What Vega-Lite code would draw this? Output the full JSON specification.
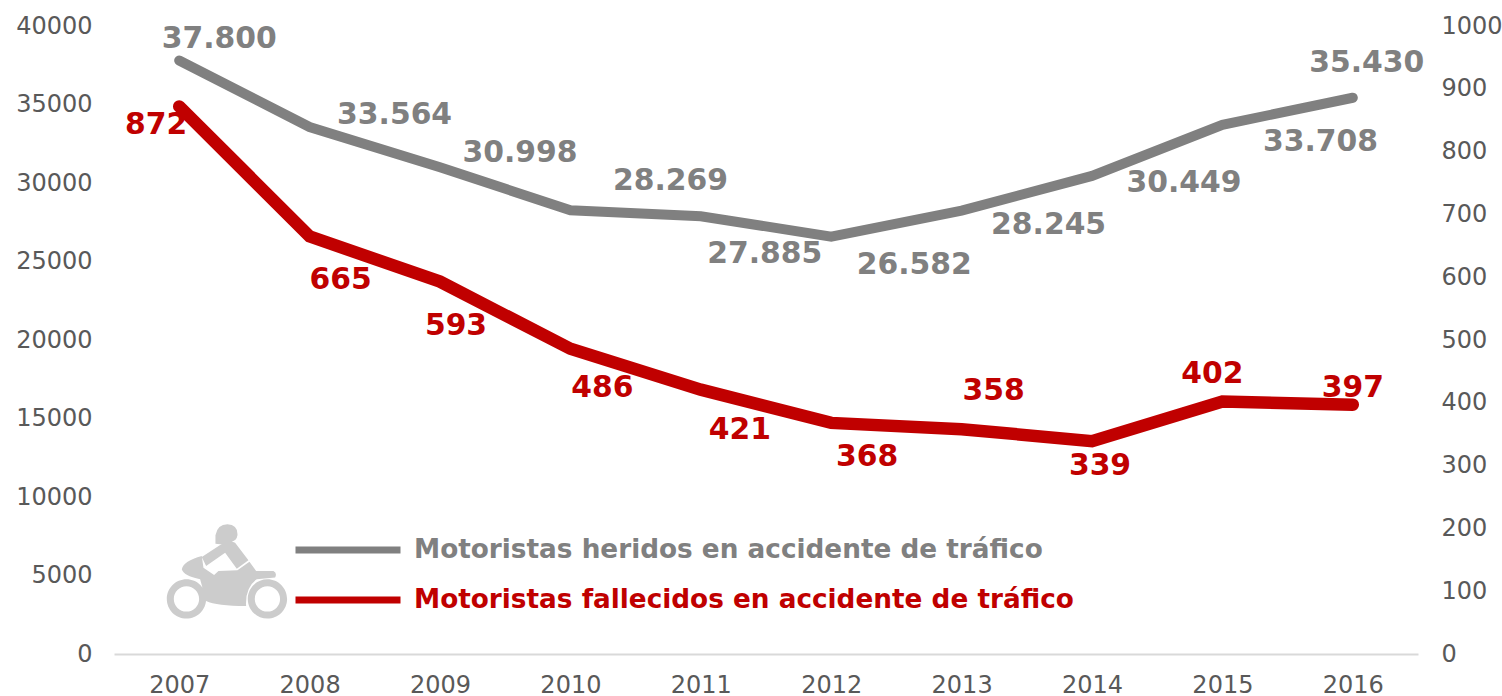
{"$schema":"https://vega.github.io/schema/vega-lite/v6.json","width":1304,"height":628,"autosize":{"type":"none"},"padding":{"left":114,"top":26,"right":84,"bottom":42},"background":"white","config":{"view":{"stroke":null},"font":"DejaVu Sans"},"datasets":{"icono":[{"anio":2007.37,"valor":5268}]},"data":{"values":[{"serie":"Motoristas heridos en accidente de tráfico","anio":2007,"valor":37800,"etiqueta":"37.800"},{"serie":"Motoristas heridos en accidente de tráfico","anio":2008,"valor":33564,"etiqueta":"33.564"},{"serie":"Motoristas heridos en accidente de tráfico","anio":2009,"valor":30998,"etiqueta":"30.998"},{"serie":"Motoristas heridos en accidente de tráfico","anio":2010,"valor":28269,"etiqueta":"28.269"},{"serie":"Motoristas heridos en accidente de tráfico","anio":2011,"valor":27885,"etiqueta":"27.885"},{"serie":"Motoristas heridos en accidente de tráfico","anio":2012,"valor":26582,"etiqueta":"26.582"},{"serie":"Motoristas heridos en accidente de tráfico","anio":2013,"valor":28245,"etiqueta":"28.245"},{"serie":"Motoristas heridos en accidente de tráfico","anio":2014,"valor":30449,"etiqueta":"30.449"},{"serie":"Motoristas heridos en accidente de tráfico","anio":2015,"valor":33708,"etiqueta":"33.708"},{"serie":"Motoristas heridos en accidente de tráfico","anio":2016,"valor":35430,"etiqueta":"35.430"},{"serie":"Motoristas fallecidos en accidente de tráfico","anio":2007,"valor":872,"etiqueta":"872"},{"serie":"Motoristas fallecidos en accidente de tráfico","anio":2008,"valor":665,"etiqueta":"665"},{"serie":"Motoristas fallecidos en accidente de tráfico","anio":2009,"valor":593,"etiqueta":"593"},{"serie":"Motoristas fallecidos en accidente de tráfico","anio":2010,"valor":486,"etiqueta":"486"},{"serie":"Motoristas fallecidos en accidente de tráfico","anio":2011,"valor":421,"etiqueta":"421"},{"serie":"Motoristas fallecidos en accidente de tráfico","anio":2012,"valor":368,"etiqueta":"368"},{"serie":"Motoristas fallecidos en accidente de tráfico","anio":2013,"valor":358,"etiqueta":"358"},{"serie":"Motoristas fallecidos en accidente de tráfico","anio":2014,"valor":339,"etiqueta":"339"},{"serie":"Motoristas fallecidos en accidente de tráfico","anio":2015,"valor":402,"etiqueta":"402"},{"serie":"Motoristas fallecidos en accidente de tráfico","anio":2016,"valor":397,"etiqueta":"397"}]},"encoding":{"x":{"field":"anio","type":"quantitative","title":null,"scale":{"domain":[2006.5,2016.5],"nice":false,"zero":false},"axis":{"values":[2007,2008,2009,2010,2011,2012,2013,2014,2015,2016],"format":"d","grid":false,"ticks":false,"domainColor":"#d9d9d9","domainWidth":2,"labelColor":"#595959","labelFontSize":24,"labelPadding":19,"labelFont":"DejaVu Sans"}}},"layer":[{"transform":[{"filter":"datum.serie === 'Motoristas heridos en accidente de tráfico'"}],"encoding":{"y":{"field":"valor","type":"quantitative","title":null,"scale":{"domain":[0,40000],"nice":false},"axis":{"orient":"left","values":[0,5000,10000,15000,20000,25000,30000,35000,40000],"format":"d","grid":false,"ticks":false,"domain":false,"labelColor":"#595959","labelFontSize":24,"labelPadding":22,"labelFont":"DejaVu Sans"}},"text":{"field":"etiqueta"}},"layer":[{"mark":{"type":"line","color":"#808080","strokeWidth":10,"strokeCap":"round","strokeJoin":"miter"},"encoding":{"color":{"field":"serie","type":"nominal","scale":{"domain":["Motoristas heridos en accidente de tráfico","Motoristas fallecidos en accidente de tráfico"],"range":["#808080","#c00000"]},"legend":{"orient":"none","legendX":178,"legendY":499,"title":null,"symbolType":"stroke","symbolSize":11025,"symbolStrokeWidth":7,"labelFontSize":26.3,"labelFontWeight":"bold","labelFont":"DejaVu Sans","labelOffset":10,"rowPadding":0,"clipHeight":50,"labelLimit":800,"labelColor":{"expr":"datum.label === 'Motoristas heridos en accidente de tráfico' ? '#808080' : '#c00000'"}}}}},{"data":{"name":"icono"},"mark":{"type":"point","filled":true,"color":"#cccccc","opacity":1,"size":0.444,"shape":"M-36,-108Q-30,-141,0,-141Q32,-139,30,-108Q28,-91,10,-89L-22,-81L-36,-83ZM-77,-43L-7,-89Q8,-93,23,-86L63,-33L28,-8L-7,-56L-64,-16ZM-77,-46Q-132,-31,-137,-6Q-132,14,-82,24L-64,89Q-32,104,56,104Q53,49,88,24L143,19Q150,4,138,-1L86,-1L66,-29L30,-3L-27,-1L-40,11L-72,-11ZM-182,83a59,59,0,1,0,118,0a59,59,0,1,0,-118,0ZM-161,83a38,38,0,1,1,76,0a38,38,0,1,1,-76,0ZM61,83a59,59,0,1,0,118,0a59,59,0,1,0,-118,0ZM82,83a38,38,0,1,1,76,0a38,38,0,1,1,-76,0Z"},"encoding":{"text":null}},{"transform":[{"filter":"datum.anio===2007"}],"mark":{"type":"text","font":"DejaVu Sans","fontWeight":"bold","fontSize":29.8,"color":"#808080","dx":40,"dy":-22}},{"transform":[{"filter":"datum.anio===2008"}],"mark":{"type":"text","font":"DejaVu Sans","fontWeight":"bold","fontSize":29.8,"color":"#808080","dx":85,"dy":-12}},{"transform":[{"filter":"datum.anio===2009"}],"mark":{"type":"text","font":"DejaVu Sans","fontWeight":"bold","fontSize":29.8,"color":"#808080","dx":80,"dy":-14}},{"transform":[{"filter":"datum.anio===2010"}],"mark":{"type":"text","font":"DejaVu Sans","fontWeight":"bold","fontSize":29.8,"color":"#808080","dx":100,"dy":-29}},{"transform":[{"filter":"datum.anio===2011"}],"mark":{"type":"text","font":"DejaVu Sans","fontWeight":"bold","fontSize":29.8,"color":"#808080","dx":64,"dy":38}},{"transform":[{"filter":"datum.anio===2012"}],"mark":{"type":"text","font":"DejaVu Sans","fontWeight":"bold","fontSize":29.8,"color":"#808080","dx":83,"dy":28}},{"transform":[{"filter":"datum.anio===2013"}],"mark":{"type":"text","font":"DejaVu Sans","fontWeight":"bold","fontSize":29.8,"color":"#808080","dx":87,"dy":14}},{"transform":[{"filter":"datum.anio===2014"}],"mark":{"type":"text","font":"DejaVu Sans","fontWeight":"bold","fontSize":29.8,"color":"#808080","dx":92,"dy":7}},{"transform":[{"filter":"datum.anio===2015"}],"mark":{"type":"text","font":"DejaVu Sans","fontWeight":"bold","fontSize":29.8,"color":"#808080","dx":98,"dy":17}},{"transform":[{"filter":"datum.anio===2016"}],"mark":{"type":"text","font":"DejaVu Sans","fontWeight":"bold","fontSize":29.8,"color":"#808080","dx":14,"dy":-35}}]},{"transform":[{"filter":"datum.serie === 'Motoristas fallecidos en accidente de tráfico'"}],"encoding":{"y":{"field":"valor","type":"quantitative","title":null,"scale":{"domain":[0,1000],"nice":false},"axis":{"orient":"right","values":[0,100,200,300,400,500,600,700,800,900,1000],"format":"d","grid":false,"ticks":false,"domain":false,"labelColor":"#595959","labelFontSize":24,"labelPadding":23,"labelFont":"DejaVu Sans"}},"text":{"field":"etiqueta"}},"layer":[{"mark":{"type":"line","color":"#c00000","strokeWidth":12.5,"strokeCap":"round"},"encoding":{"color":{"field":"serie","type":"nominal"}}},{"transform":[{"filter":"datum.anio===2007"}],"mark":{"type":"text","font":"DejaVu Sans","fontWeight":"bold","fontSize":29.8,"color":"#c00000","dx":-23,"dy":19}},{"transform":[{"filter":"datum.anio===2008"}],"mark":{"type":"text","font":"DejaVu Sans","fontWeight":"bold","fontSize":29.8,"color":"#c00000","dx":31,"dy":44}},{"transform":[{"filter":"datum.anio===2009"}],"mark":{"type":"text","font":"DejaVu Sans","fontWeight":"bold","fontSize":29.8,"color":"#c00000","dx":16,"dy":44}},{"transform":[{"filter":"datum.anio===2010"}],"mark":{"type":"text","font":"DejaVu Sans","fontWeight":"bold","fontSize":29.8,"color":"#c00000","dx":32,"dy":39}},{"transform":[{"filter":"datum.anio===2011"}],"mark":{"type":"text","font":"DejaVu Sans","fontWeight":"bold","fontSize":29.8,"color":"#c00000","dx":39,"dy":40}},{"transform":[{"filter":"datum.anio===2012"}],"mark":{"type":"text","font":"DejaVu Sans","fontWeight":"bold","fontSize":29.8,"color":"#c00000","dx":36,"dy":34}},{"transform":[{"filter":"datum.anio===2013"}],"mark":{"type":"text","font":"DejaVu Sans","fontWeight":"bold","fontSize":29.8,"color":"#c00000","dx":32,"dy":-38}},{"transform":[{"filter":"datum.anio===2014"}],"mark":{"type":"text","font":"DejaVu Sans","fontWeight":"bold","fontSize":29.8,"color":"#c00000","dx":8,"dy":25}},{"transform":[{"filter":"datum.anio===2015"}],"mark":{"type":"text","font":"DejaVu Sans","fontWeight":"bold","fontSize":29.8,"color":"#c00000","dx":-10,"dy":-28}},{"transform":[{"filter":"datum.anio===2016"}],"mark":{"type":"text","font":"DejaVu Sans","fontWeight":"bold","fontSize":29.8,"color":"#c00000","dx":0,"dy":-17}}]}],"resolve":{"scale":{"y":"independent"}}}
